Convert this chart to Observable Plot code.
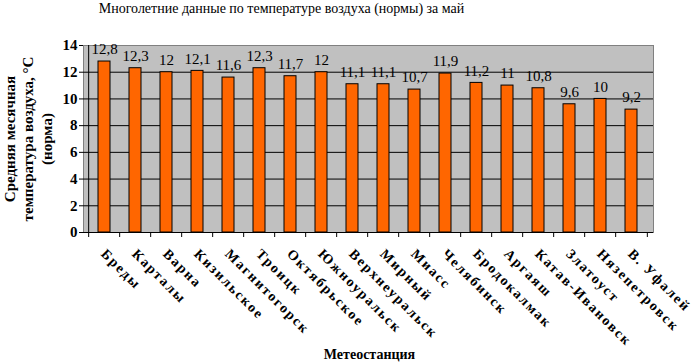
<!DOCTYPE html>
<html><head><meta charset="utf-8">
<script src="https://cdn.jsdelivr.net/npm/d3@7"></script>
<script src="https://cdn.jsdelivr.net/npm/@observablehq/plot@0.6"></script>
<style>
body{margin:0;background:#fff}
g[aria-label="x-axis tick label"] text { letter-spacing: 1.8px; }
g[aria-label="y-title"] text { letter-spacing: 0.6px; }
g[aria-label="x-title"] text { letter-spacing: 1px; }
</style>
</head><body><div id="chart"></div>
<script>
const stations = ["Бреды","Карталы","Варна","Кизильское","Магнитогорск","Троицк","Октябрьское","Южноуральск","Верхнеуральск","Мирный","Миасс","Челябинск","Бродокалмак","Аргаяш","Катав-Ивановск","Златоуст","Нязепетровск","В. Уфалей"];
const temps = [12.8,12.3,12,12.1,11.6,12.3,11.7,12,11.1,11.1,10.7,11.9,11.2,11,10.8,9.6,10,9.2];
const yTicks = [0,2,4,6,8,10,12,14];
const title = "Многолетние данные по температуре воздуха (нормы) за май";
const yTitle = "Средняя месячная\nтемпература воздуха, °С\n(норма)";
const xTitle = "Метеостанция";

const data = stations.map((s,i)=>({station:s, t:temps[i]}));
const fmt = v => String(v).replace(".", ",");
const W = 699, H = 364, mL = 83, mR = 46, mT = 45, mB = 132;
const step = (W - mL - mR) / stations.length;
const FF = "Liberation Serif";

const plot = Plot.plot({
  width: W, height: H,
  marginLeft: mL, marginRight: mR, marginTop: mT, marginBottom: mB,
  x: {domain: stations, paddingInner: 0.6, paddingOuter: 0.3, label: null},
  y: {domain: [0,14], label: null},
  marks: [
    Plot.frame({fill: "#c0c0c0", stroke: "#808080"}),
    Plot.gridY(yTicks.filter(d=>d>0 && d<14), {stroke: "#000", strokeOpacity: 1}),
    Plot.barY(data, {x: "station", y: "t", fill: "#ff6600", stroke: "#000", strokeWidth: 1}),
    Plot.text(data, {x: "station", y: "t", text: d => fmt(d.t), dy: -12, lineAnchor: "middle", fontSize: 15, fontFamily: FF, fill: "#000"}),
    Plot.ruleY([0], {stroke: "#000"}),
    Plot.ruleX([0], {x: () => stations[0], dx: -step/2, stroke: "#000"}),
    Plot.axisY({ticks: yTicks, tickSize: 4, tickPadding: 2, fontSize: 15, fontWeight: "bold", fontFamily: FF, fill: "#000", tickFormat: d => d}),
    Plot.axisX({tickSize: 5, tickFormat: () => "", dx: -step/2}),
    Plot.axisX({ticks: stations.slice(-1), tickSize: 5, tickFormat: () => "", dx: step/2}),
    Plot.axisX({tickSize: 0, tickRotate: 45, textAnchor: "start", tickPadding: 19, dx: -1, fontSize: 14, fontWeight: "bold", fontFamily: FF, fill: "#000"}),
    Plot.text([title], {frameAnchor: "top", dy: -42, dx: -87, fontSize: 14, fontFamily: FF, fill: "#000"}),
    Plot.text([yTitle], {ariaLabel: "y-title", frameAnchor: "left", textAnchor: "middle", lineAnchor: "middle", dx: -56, rotate: -90, fontSize: 15, fontWeight: "bold", fontFamily: FF, lineHeight: 1.22, fill: "#000"}),
    Plot.text([xTitle], {ariaLabel: "x-title", frameAnchor: "bottom", dy: 126, dx: 1, fontSize: 14, fontWeight: "bold", fontFamily: FF, fill: "#000"})
  ]
});
document.getElementById("chart").append(plot);
</script>
</body></html>
